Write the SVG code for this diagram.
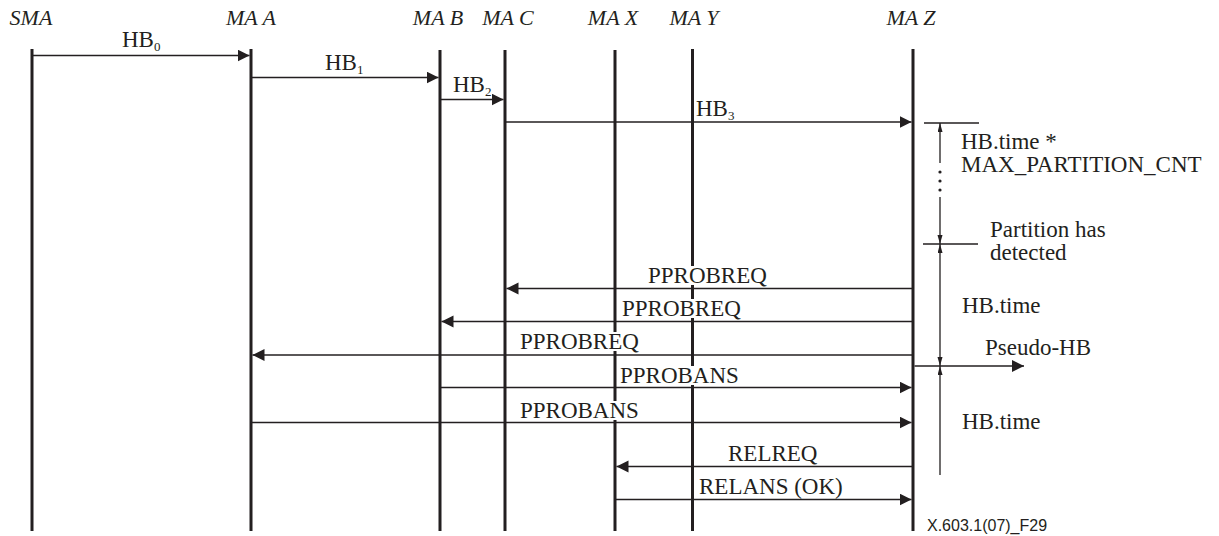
<svg xmlns="http://www.w3.org/2000/svg" width="1219" height="536" viewBox="0 0 1219 536">
  <style>
    .head { font-family: "Liberation Serif", "Times New Roman", serif; font-style: italic; font-size: 22px; fill: #231f20; text-anchor: middle; }
    .life { stroke: #231f20; stroke-width: 3; fill: none; }
    .lbl { font-family: "Liberation Serif", "Times New Roman", serif; font-size: 23px; fill: #231f20; }
    .sub { font-size: 13px; }
    .msg { stroke: #231f20; stroke-width: 1.3; fill: none; marker-end: url(#ah); }
    .dim { stroke: #231f20; stroke-width: 1.3; fill: none; }
    .knock { fill: #ffffff; }
    .fig { font-family: "Liberation Sans", Arial, sans-serif; font-size: 16px; fill: #231f20; }
  </style>
  <defs>
    <marker id="ah" markerUnits="userSpaceOnUse" markerWidth="13" markerHeight="13" refX="12" refY="6" orient="auto">
      <path d="M0,0 L12,6 L0,12 Z" fill="#231f20"/>
    </marker>
    <marker id="sa" markerUnits="userSpaceOnUse" markerWidth="10" markerHeight="6" refX="9" refY="2.5" orient="auto-start-reverse">
      <path d="M0,0 L9,2.5 L0,5 Z" fill="#231f20"/>
    </marker>
  </defs>

  <rect width="1219" height="536" fill="#ffffff"/>

  <!-- lifelines -->
  <g id="sma">
    <text class="head" x="31" y="25">SMA</text>
    <line class="life" x1="32" y1="49" x2="32" y2="531"/>
  </g>
  <g id="ma-a">
    <text class="head" x="251" y="25">MA A</text>
    <line class="life" x1="251" y1="49" x2="251" y2="531"/>
  </g>
  <g id="ma-b">
    <text class="head" x="438" y="25">MA B</text>
    <line class="life" x1="440" y1="50" x2="440" y2="531"/>
  </g>
  <g id="ma-c">
    <text class="head" x="508" y="25">MA C</text>
    <line class="life" x1="505" y1="50" x2="505" y2="531"/>
  </g>
  <g id="ma-x">
    <text class="head" x="613" y="25">MA X</text>
    <line class="life" x1="615" y1="50" x2="615" y2="531"/>
  </g>
  <g id="ma-y">
    <text class="head" x="694" y="25">MA Y</text>
    <line class="life" x1="692.5" y1="49" x2="692.5" y2="531"/>
  </g>
  <g id="ma-z">
    <text class="head" x="911" y="25">MA Z</text>
    <line class="life" x1="913" y1="49" x2="913" y2="531"/>
  </g>

  <!-- messages -->
  <g id="connectors">
    <line class="msg" x1="32" y1="55.5" x2="249.5" y2="55.5"/>
    <text class="lbl" x="122" y="47">HB<tspan class="sub" dy="4">0</tspan></text>

    <line class="msg" x1="251" y1="77.5" x2="438.5" y2="77.5"/>
    <text class="lbl" x="325" y="70">HB<tspan class="sub" dy="4">1</tspan></text>

    <line class="msg" x1="440" y1="99.5" x2="503.5" y2="99.5"/>
    <text class="lbl" x="453" y="92">HB<tspan class="sub" dy="4">2</tspan></text>

    <line class="msg" x1="505" y1="122" x2="911.5" y2="122"/>
    <text class="lbl" x="696" y="116">HB<tspan class="sub" dy="4">3</tspan></text>

    <line class="msg" x1="913" y1="288.5" x2="506.5" y2="288.5"/>
    <rect class="knock" x="646" y="266" width="126" height="19"/>
    <text class="lbl" x="648" y="283">PPROBREQ</text>

    <line class="msg" x1="913" y1="321.5" x2="441.5" y2="321.5"/>
    <rect class="knock" x="620" y="299" width="126" height="19"/>
    <text class="lbl" x="622" y="316">PPROBREQ</text>

    <line class="msg" x1="913" y1="355" x2="252.5" y2="355"/>
    <rect class="knock" x="518" y="332" width="126" height="19"/>
    <text class="lbl" x="520" y="349">PPROBREQ</text>

    <line class="msg" x1="440" y1="387.5" x2="911.5" y2="387.5"/>
    <rect class="knock" x="618" y="366" width="126" height="19"/>
    <text class="lbl" x="620" y="383">PPROBANS</text>

    <line class="msg" x1="251" y1="422.5" x2="911.5" y2="422.5"/>
    <rect class="knock" x="518" y="401" width="126" height="19"/>
    <text class="lbl" x="520" y="418">PPROBANS</text>

    <line class="msg" x1="913" y1="466.5" x2="616.5" y2="466.5"/>
    <text class="lbl" x="728" y="461">RELREQ</text>

    <line class="msg" x1="615" y1="499.5" x2="911.5" y2="499.5"/>
    <text class="lbl" x="699" y="494">RELANS (OK)</text>

    <line class="msg" x1="914.5" y1="366" x2="1024" y2="366"/>
    <text class="lbl" x="985" y="355">Pseudo-HB</text>
  </g>

  <!-- timing dimensions beside MA Z -->
  <g id="timing">
    <line class="dim" x1="924" y1="123" x2="979" y2="123"/>
    <line class="dim" x1="923" y1="244" x2="978" y2="244"/>
    <line class="dim" x1="940" y1="163" x2="940" y2="123" marker-end="url(#sa)"/>
    <circle cx="940" cy="172" r="1.6" fill="#231f20"/>
    <circle cx="940" cy="181" r="1.6" fill="#231f20"/>
    <circle cx="940" cy="190" r="1.6" fill="#231f20"/>
    <line class="dim" x1="940" y1="197" x2="940" y2="244" marker-end="url(#sa)"/>
    <line class="dim" x1="940" y1="244" x2="940" y2="366" marker-start="url(#sa)" marker-end="url(#sa)"/>
    <line class="dim" x1="940" y1="475" x2="940" y2="366" marker-end="url(#sa)"/>

    <text class="lbl" x="961" y="149">HB.time *</text>
    <text class="lbl" x="961" y="172">MAX_PARTITION_CNT</text>
    <text class="lbl" x="990" y="237">Partition has</text>
    <text class="lbl" x="990" y="260">detected</text>
    <text class="lbl" x="962" y="313">HB.time</text>
    <text class="lbl" x="962" y="429">HB.time</text>
  </g>

  <text class="fig" x="927" y="531">X.603.1(07)_F29</text>
</svg>
